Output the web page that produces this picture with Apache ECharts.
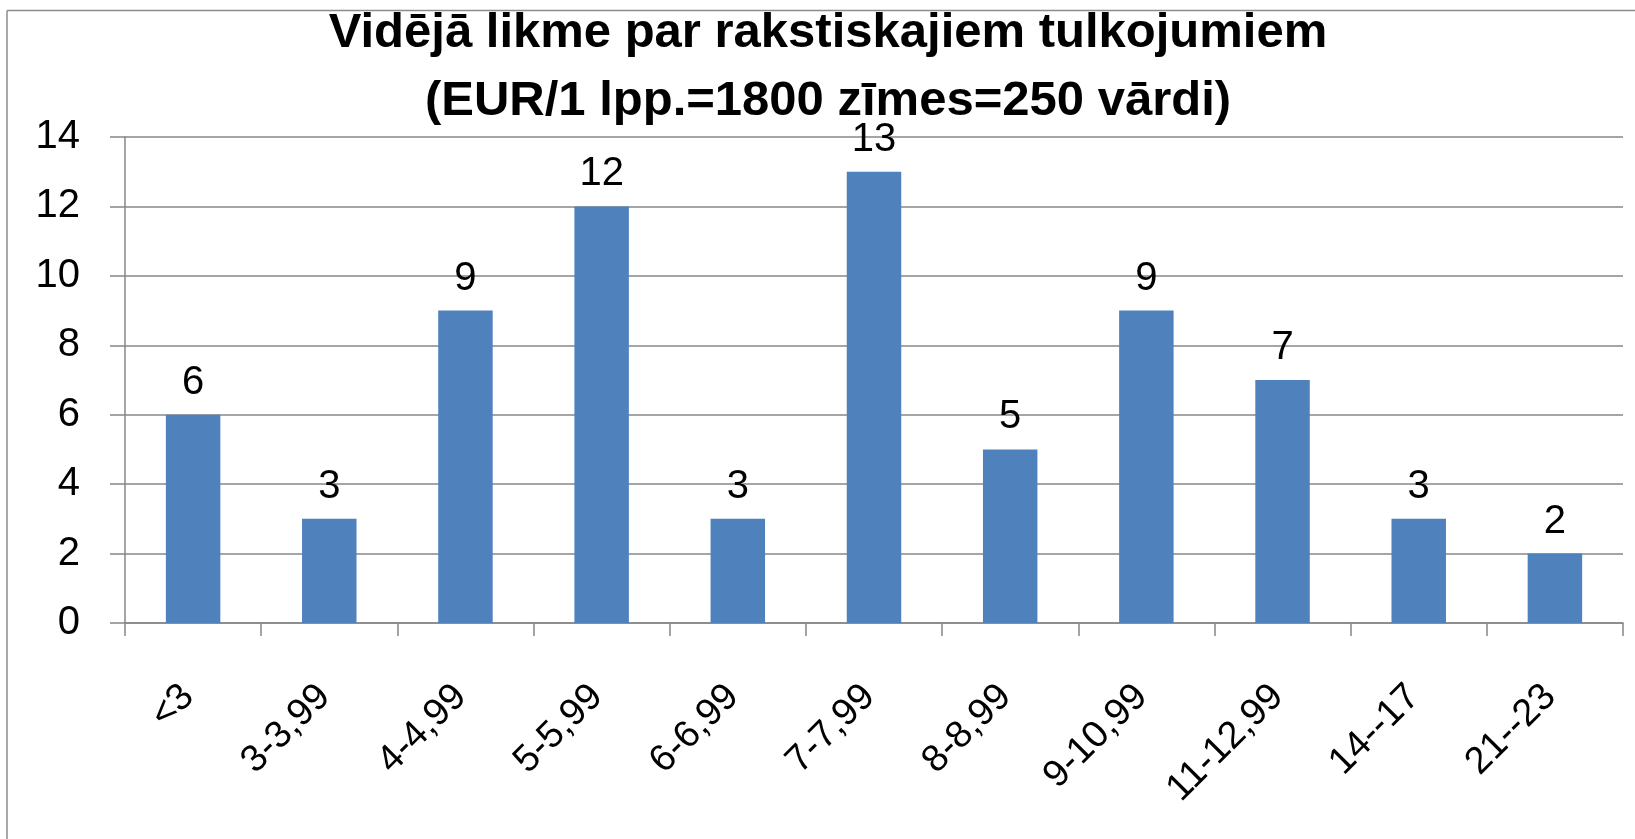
<!DOCTYPE html>
<html>
<head>
<meta charset="utf-8">
<script src="https://cdn.jsdelivr.net/npm/echarts@6/dist/echarts.min.js"></script>
<style>
  html, body { margin: 0; padding: 0; background: #ffffff; }
  #chart { width: 1635px; height: 839px; }
</style>
</head>
<body>
<div id="chart"></div>
<script>
const titleLines = ['Vidējā likme par rakstiskajiem tulkojumiem', '(EUR/1 lpp.=1800 zīmes=250 vārdi)'];
const categories = ['<3', '3-3,99', '4-4,99', '5-5,99', '6-6,99', '7-7,99', '8-8,99', '9-10,99', '11-12,99', '14--17', '21--23'];
const counts = [6, 3, 9, 12, 3, 13, 5, 9, 7, 3, 2];
const yTicks = { min: 0, max: 14, interval: 2 };

const chart = echarts.init(document.getElementById('chart'), null, { renderer: 'canvas' });
const FONT = '"Liberation Sans", Arial, sans-serif';
const gray = '#878787';

chart.setOption({
  animation: false,
  backgroundColor: '#ffffff',
  title: {
    text: titleLines.join('\n'),
    left: 828,
    top: -1,
    padding: 0,
    textAlign: 'center',
    textStyle: {
      fontFamily: FONT,
      fontWeight: 'bold',
      fontSize: 49,
      lineHeight: 68,
      color: '#000000'
    }
  },
  graphic: [
    { type: 'line', shape: { x1: 7, y1: 10.5, x2: 1635, y2: 10.5 }, style: { stroke: '#8c8c8c', lineWidth: 1.5 } },
    { type: 'line', shape: { x1: 7, y1: 10.5, x2: 7, y2: 839 }, style: { stroke: '#8c8c8c', lineWidth: 1.5 } }
  ],
  grid: { left: 125, right: 12, top: 137, bottom: 216, containLabel: false },
  xAxis: {
    type: 'category',
    data: categories,
    axisLine: { show: true, lineStyle: { color: gray, width: 1.5 } },
    axisTick: { show: true, alignWithLabel: false, length: 13, lineStyle: { color: gray, width: 1.5 } },
    axisLabel: {
      rotate: 45,
      interval: 0,
      margin: 63,
      padding: [0, 7, 0, 0],
      fontFamily: FONT,
      fontSize: 38,
      color: '#000000'
    },
    splitLine: { show: false }
  },
  yAxis: {
    type: 'value',
    min: yTicks.min,
    max: yTicks.max,
    interval: yTicks.interval,
    axisLine: { show: true, lineStyle: { color: gray, width: 1.5 } },
    axisTick: { show: true, length: 15, lineStyle: { color: gray, width: 1.5 } },
    axisLabel: {
      margin: 45,
      fontFamily: FONT,
      fontSize: 40,
      color: '#000000'
    },
    splitLine: { show: true, lineStyle: { color: gray, width: 1.5 } }
  },
  series: [{
    type: 'bar',
    data: counts,
    barWidth: '40%',
    itemStyle: { color: '#4F81BD' },
    label: {
      show: true,
      position: 'top',
      distance: 12,
      fontFamily: FONT,
      fontSize: 40,
      color: '#000000'
    }
  }]
});
</script>
</body>
</html>
